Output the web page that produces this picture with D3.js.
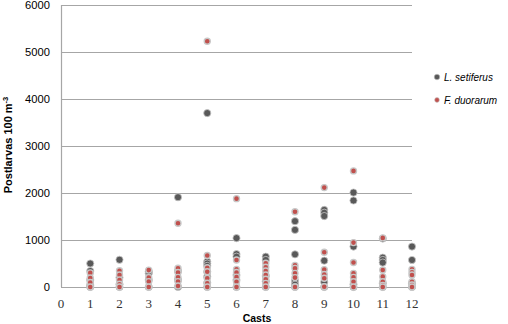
<!DOCTYPE html>
<html>
<head>
<meta charset="utf-8">
<script src="https://cdn.jsdelivr.net/npm/d3@7"></script>
<style>
  body { margin: 0; background: #fff; }
  svg { display: block; }
</style>
</head>
<body>
<div id="chart"></div>
<script>
// cast numbers on the x axis
const castTicks = [0, 1, 2, 3, 4, 5, 6, 7, 8, 9, 10, 11, 12];
const yTicks = [0, 1000, 2000, 3000, 4000, 5000, 6000];

// [cast, postlarvas per 100 m3]
const setiferus = [
  [1, 500], [1, 340], [1, 150], [1, 40], [1, 0],
  [2, 580], [2, 200], [2, 60], [2, 0],
  [3, 290], [3, 330], [3, 150], [3, 0],
  [4, 1910], [4, 340], [4, 150], [4, 0],
  [5, 3700], [5, 540], [5, 500], [5, 450], [5, 325], [5, 220], [5, 90], [5, 0],
  [6, 1040], [6, 700], [6, 645], [6, 255], [6, 150], [6, 0],
  [7, 645], [7, 575], [7, 235], [7, 120], [7, 0],
  [8, 1400], [8, 1215], [8, 695], [8, 130], [8, 50], [8, 0],
  [9, 1640], [9, 1580], [9, 1510], [9, 560], [9, 105], [9, 0],
  [10, 2010], [10, 1840], [10, 860], [10, 60], [10, 0],
  [11, 1030], [11, 625], [11, 575], [11, 520], [11, 80], [11, 0],
  [12, 860], [12, 575], [12, 80], [12, 0]
];

const duorarum = [
  [1, 300], [1, 190], [1, 95], [1, 0],
  [2, 345], [2, 255], [2, 150], [2, 60], [2, 0],
  [3, 360], [3, 200], [3, 115], [3, 0],
  [4, 1355], [4, 400], [4, 310], [4, 205], [4, 115], [4, 20],
  [5, 5230], [5, 670], [5, 410], [5, 325], [5, 185], [5, 80], [5, 0],
  [6, 1880], [6, 575], [6, 375], [6, 310], [6, 210], [6, 113], [6, 0],
  [7, 505], [7, 420], [7, 340], [7, 255], [7, 165], [7, 78], [7, 0],
  [8, 1600], [8, 460], [8, 397], [8, 290], [8, 200], [8, 0],
  [9, 2115], [9, 738], [9, 370], [9, 265], [9, 185], [9, 5],
  [10, 2470], [10, 945], [10, 520], [10, 290], [10, 205], [10, 113], [10, 0],
  [11, 1045], [11, 362], [11, 220], [11, 113], [11, 35], [11, 0],
  [12, 376], [12, 312], [12, 255], [12, 113], [12, 42], [12, 0]
];

const seriesNames = ["L. setiferus", "F. duorarum"];

const W = 508, H = 324;
const svg = d3.select("#chart").append("svg")
  .attr("width", W).attr("height", H);

const x = d3.scaleLinear().domain([0, 12]).range([61, 412]);
const y = d3.scaleLinear().domain([0, 6000]).range([287, 5]);

// gridlines
svg.append("g").selectAll("line").data(yTicks).join("line")
  .attr("x1", x(0)).attr("x2", x(12))
  .attr("y1", d => y(d) + 0.5).attr("y2", d => y(d) + 0.5)
  .attr("stroke", "#a6a6a6").attr("stroke-width", 1.2);

// left axis line
svg.append("line")
  .attr("x1", x(0) + 0.5).attr("x2", x(0) + 0.5)
  .attr("y1", y(6000)).attr("y2", y(0))
  .attr("stroke", "#a6a6a6").attr("stroke-width", 1.2);

// y tick labels
svg.append("g").selectAll("text").data(yTicks).join("text")
  .attr("x", 50).attr("y", d => y(d) + 4)
  .attr("text-anchor", "end")
  .attr("font-family", "Liberation Sans, Arial, sans-serif")
  .attr("font-size", 11.2).attr("fill", "#000")
  .text(d => d);

// x tick labels
svg.append("g").selectAll("text").data(castTicks).join("text")
  .attr("x", d => x(d)).attr("y", 308)
  .attr("text-anchor", "middle")
  .attr("font-family", "Liberation Serif, Times New Roman, serif")
  .attr("font-size", 13).attr("fill", "#333")
  .text(d => d);

// axis titles
svg.append("text")
  .attr("x", 257).attr("y", 322)
  .attr("text-anchor", "middle")
  .attr("font-family", "Liberation Sans, Arial, sans-serif")
  .attr("font-weight", "bold").attr("font-size", 10.5)
  .text("Casts");

const yTitle = svg.append("text")
  .attr("transform", "translate(12,145) rotate(-90)")
  .attr("text-anchor", "middle")
  .attr("font-family", "Liberation Sans, Arial, sans-serif")
  .attr("font-weight", "bold").attr("font-size", 11);
yTitle.append("tspan").text("Postlarvas  100  m");
yTitle.append("tspan").attr("baseline-shift", "super").attr("font-size", 7.5).text("-3");

// points
svg.append("g").selectAll("circle").data(setiferus).join("circle")
  .attr("cx", d => x(d[0])).attr("cy", d => y(d[1]))
  .attr("r", 3.6)
  .attr("fill", "#595959").attr("stroke", "#c8c8c8").attr("stroke-width", 0.8);

svg.append("g").selectAll("circle").data(duorarum).join("circle")
  .attr("cx", d => x(d[0])).attr("cy", d => y(d[1]))
  .attr("r", 3)
  .attr("fill", "#c0504d").attr("stroke", "#c8c8c8").attr("stroke-width", 1.4);

// legend
const legend = svg.append("g").selectAll("g").data(seriesNames).join("g")
  .attr("transform", (d, i) => `translate(437,${77 + i * 23})`);
legend.append("circle")
  .attr("r", (d, i) => i === 0 ? 2.8 : 2.4)
  .attr("fill", (d, i) => i === 0 ? "#595959" : "#c0504d")
  .attr("stroke", "#c8c8c8").attr("stroke-width", 0.6);
legend.append("text")
  .attr("x", 7).attr("y", 3.8)
  .attr("font-family", "Liberation Sans, Arial, sans-serif")
  .attr("font-style", "italic").attr("font-size", 10)
  .text(d => d);
</script>
</body>
</html>
